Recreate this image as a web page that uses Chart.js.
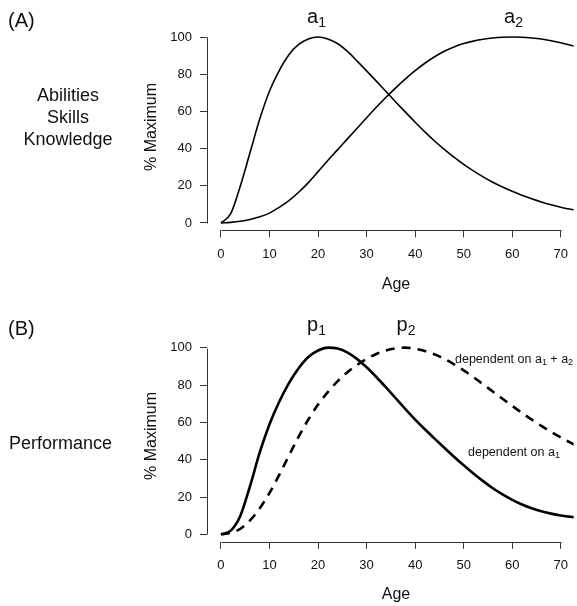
<!DOCTYPE html>
<html>
<head>
<meta charset="utf-8">
<script src="https://cdn.jsdelivr.net/npm/chart.js@4"></script>
<style>
html, body { margin: 0; padding: 0; background: #fff; }
#wrap { position: relative; width: 577px; height: 606px; }
.panel { position: absolute; left: 0; width: 577px; height: 303px; }
</style>
</head>
<body>
<div id="wrap">
  <div class="panel" style="top:0"><canvas id="chartA"></canvas></div>
  <div class="panel" style="top:303px"><canvas id="chartB"></canvas></div>
</div>
<script>
// 数据：年龄与各曲线的百分比
const ages = [0, 2, 4, 6, 8, 10, 12, 14, 16, 18, 20, 22, 24, 26, 28, 30, 32, 34, 36, 38,
              40, 42, 44, 46, 48, 50, 52, 54, 56, 58, 60, 62, 64, 66, 68, 70, 72, 73];
const abilityA1 = [0, 5, 20, 38, 56, 71, 82, 90.5, 96, 99, 100, 99, 96.5, 92.4, 87.2, 81.8, 76.3, 70.7, 65.1, 59.6,
                   54.2, 49, 44.1, 39.6, 35.4, 31.5, 28, 24.8, 21.9, 19.3, 17, 14.9, 13, 11.3, 9.8, 8.5, 7.4, 6.9];
const abilityA2 = [0, 0.3, 0.9, 1.9, 3.3, 5.3, 8.4, 12, 16.5, 21.7, 27.6, 33.6, 39.3, 45.1, 50.8, 56.6, 62.2, 67.6, 72.7, 77.5,
                   81.9, 85.9, 89.4, 92.4, 94.7, 96.5, 97.8, 98.8, 99.5, 99.9, 100, 99.9, 99.5, 98.9, 98, 96.9, 95.6, 94.9];
const perfP1 = [0, 2, 10, 26, 44, 59, 71, 81, 89, 95, 98.5, 100, 99.5, 97.5, 94, 89.5, 84.3, 78.7, 72.9, 67.1,
                61.5, 56.3, 51.3, 46.4, 41.6, 37, 32.6, 28.5, 24.7, 21.4, 18.5, 16, 14, 12.4, 11.1, 10.1, 9.4, 9.1];
const perfP2 = [0, 0.8, 3, 7.5, 14, 22.2, 31.8, 42.2, 52.3, 61.5, 69.5, 76.2, 81.9, 86.7, 90.7, 94, 96.6, 98.5, 99.6, 100,
                99.4, 98.2, 96.4, 94, 91.1, 87.8, 84.2, 80.4, 76.5, 72.6, 68.8, 65.1, 61.5, 58.1, 54.9, 51.9, 49.1, 47.8];
const xTicks = [0, 10, 20, 30, 40, 50, 60, 70];
const yTicks = [0, 20, 40, 60, 80, 100];

const FONT = '"Liberation Sans", Arial, Helvetica, sans-serif';
const INK = '#111';

function toPoints(values) {
    return ages.map((a, i) => ({ x: a, y: values[i] }));
}

// 文字：普通文字与带下标的文字
function drawText(ctx, t) {
    ctx.save();
    ctx.fillStyle = INK;
    ctx.font = `${t.size}px ${FONT}`;
    ctx.textAlign = t.align || 'center';
    ctx.textBaseline = t.baseline || 'middle';
    if (t.rotate) {
        ctx.translate(t.x, t.y);
        ctx.rotate(-Math.PI / 2);
        ctx.fillText(t.text, 0, 0);
    } else {
        ctx.fillText(t.text, t.x, t.y);
    }
    ctx.restore();
}

function drawSubText(ctx, parts, x, baseline, size, align) {
    // parts: [[text, isSub], ...]
    ctx.save();
    ctx.fillStyle = INK;
    ctx.textBaseline = 'alphabetic';
    ctx.textAlign = 'left';
    const subSize = Math.round(size * 0.72);
    let total = 0;
    parts.forEach(p => {
        ctx.font = `${p[1] ? subSize : size}px ${FONT}`;
        total += ctx.measureText(p[0]).width;
    });
    let cx = align === 'left' ? x : x - total / 2;
    parts.forEach(p => {
        ctx.font = `${p[1] ? subSize : size}px ${FONT}`;
        ctx.fillText(p[0], cx, p[1] ? baseline + size * 0.18 : baseline);
        cx += ctx.measureText(p[0]).width;
    });
    ctx.restore();
}

// R 风格坐标轴：只画 0-70 与 0-100 的轴线
const axisLinePlugin = {
    id: 'axisLines',
    afterDraw(chart) {
        const ctx = chart.ctx;
        const xs = chart.scales.x, ys = chart.scales.y;
        const area = chart.chartArea;
        ctx.save();
        ctx.strokeStyle = '#333';
        ctx.lineWidth = 1;
        ctx.beginPath();
        const by = Math.round(area.bottom) + 0.5;
        ctx.moveTo(Math.round(xs.getPixelForValue(xTicks[0])) + 0.5, by);
        ctx.lineTo(Math.round(xs.getPixelForValue(xTicks[xTicks.length - 1])) + 0.5, by);
        const lx = Math.round(area.left) + 0.5;
        ctx.moveTo(lx, Math.round(ys.getPixelForValue(yTicks[0])) + 0.5);
        ctx.lineTo(lx, Math.round(ys.getPixelForValue(yTicks[yTicks.length - 1])) + 0.5);
        ctx.stroke();
        ctx.restore();
    }
};

function makePanel(canvasId, cfg) {
    const ctx = document.getElementById(canvasId).getContext('2d');
    const textPlugin = {
        id: 'panelText',
        afterDraw(chart) {
            const c = chart.ctx;
            cfg.texts.forEach(t => drawText(c, t));
            cfg.subTexts.forEach(s => drawSubText(c, s.parts, s.x, s.y, s.size, s.align));
        }
    };
    return new Chart(ctx, {
        type: 'line',
        data: { datasets: cfg.datasets },
        options: {
            responsive: true,
            maintainAspectRatio: false,
            animation: false,
            layout: { padding: { top: cfg.top, left: 0, right: 0, bottom: 0 } },
            plugins: { legend: { display: false }, tooltip: { enabled: false } },
            elements: { point: { radius: 0 } },
            scales: {
                x: {
                    type: 'linear',
                    min: -2.88,
                    max: 72.65,
                    afterBuildTicks: s => { s.ticks = xTicks.map(v => ({ value: v })); },
                    afterFit: s => { s.height = 303 - cfg.bottom; },
                    border: { display: false },
                    grid: { display: true, drawOnChartArea: false, drawTicks: true, tickLength: 7, color: '#333' },
                    ticks: { color: INK, font: { family: FONT, size: 13 }, padding: 9, maxRotation: 0 }
                },
                y: {
                    type: 'linear',
                    min: -4,
                    max: 104,
                    afterBuildTicks: s => { s.ticks = yTicks.map(v => ({ value: v })); },
                    afterFit: s => { s.width = 207; },
                    border: { display: false },
                    grid: { display: true, drawOnChartArea: false, drawTicks: true, tickLength: 7, color: '#333' },
                    ticks: { color: INK, font: { family: FONT, size: 13 }, padding: 8 }
                }
            }
        },
        plugins: [axisLinePlugin, textPlugin]
    });
}

// (A) 能力曲线
makePanel('chartA', {
    top: 29.6,
    bottom: 230.4,
    datasets: [
        { data: toPoints(abilityA1), borderColor: '#000', borderWidth: 1.6, cubicInterpolationMode: 'monotone', fill: false },
        { data: toPoints(abilityA2), borderColor: '#000', borderWidth: 1.6, cubicInterpolationMode: 'monotone', fill: false }
    ],
    texts: [
        { text: '(A)', x: 8, y: 21, size: 20, align: 'left' },
        { text: 'Abilities', x: 68, y: 96, size: 18 },
        { text: 'Skills', x: 68, y: 118, size: 18 },
        { text: 'Knowledge', x: 68, y: 140, size: 18 },
        { text: '% Maximum', x: 152, y: 127, size: 16, rotate: true },
        { text: 'Age', x: 396, y: 285, size: 16 }
    ],
    subTexts: [
        { parts: [['a', false], ['1', true]], x: 316.5, y: 23, size: 20 },
        { parts: [['a', false], ['2', true]], x: 513.5, y: 23, size: 20 }
    ]
});

// (B) 表现曲线
makePanel('chartB', {
    top: 37.2,
    bottom: 238.8,
    datasets: [
        { data: toPoints(perfP1), borderColor: '#000', borderWidth: 2.6, cubicInterpolationMode: 'monotone', fill: false },
        { data: toPoints(perfP2), borderColor: '#000', borderWidth: 2.6, borderDash: [9, 7], cubicInterpolationMode: 'monotone', fill: false }
    ],
    texts: [
        { text: '(B)', x: 8, y: 26, size: 20, align: 'left' },
        { text: 'Performance', x: 9, y: 141, size: 18, align: 'left' },
        { text: '% Maximum', x: 152, y: 133, size: 16, rotate: true },
        { text: 'Age', x: 396, y: 292, size: 16 }
    ],
    subTexts: [
        { parts: [['p', false], ['1', true]], x: 316.5, y: 28, size: 20 },
        { parts: [['p', false], ['2', true]], x: 406, y: 28, size: 20 },
        { parts: [['dependent on a', false], ['1', true], [' + a', false], ['2', true]], x: 455, y: 59.5, size: 12.5, align: 'left' },
        { parts: [['dependent on a', false], ['1', true]], x: 468, y: 152.5, size: 12.5, align: 'left' }
    ]
});
</script>
</body>
</html>
